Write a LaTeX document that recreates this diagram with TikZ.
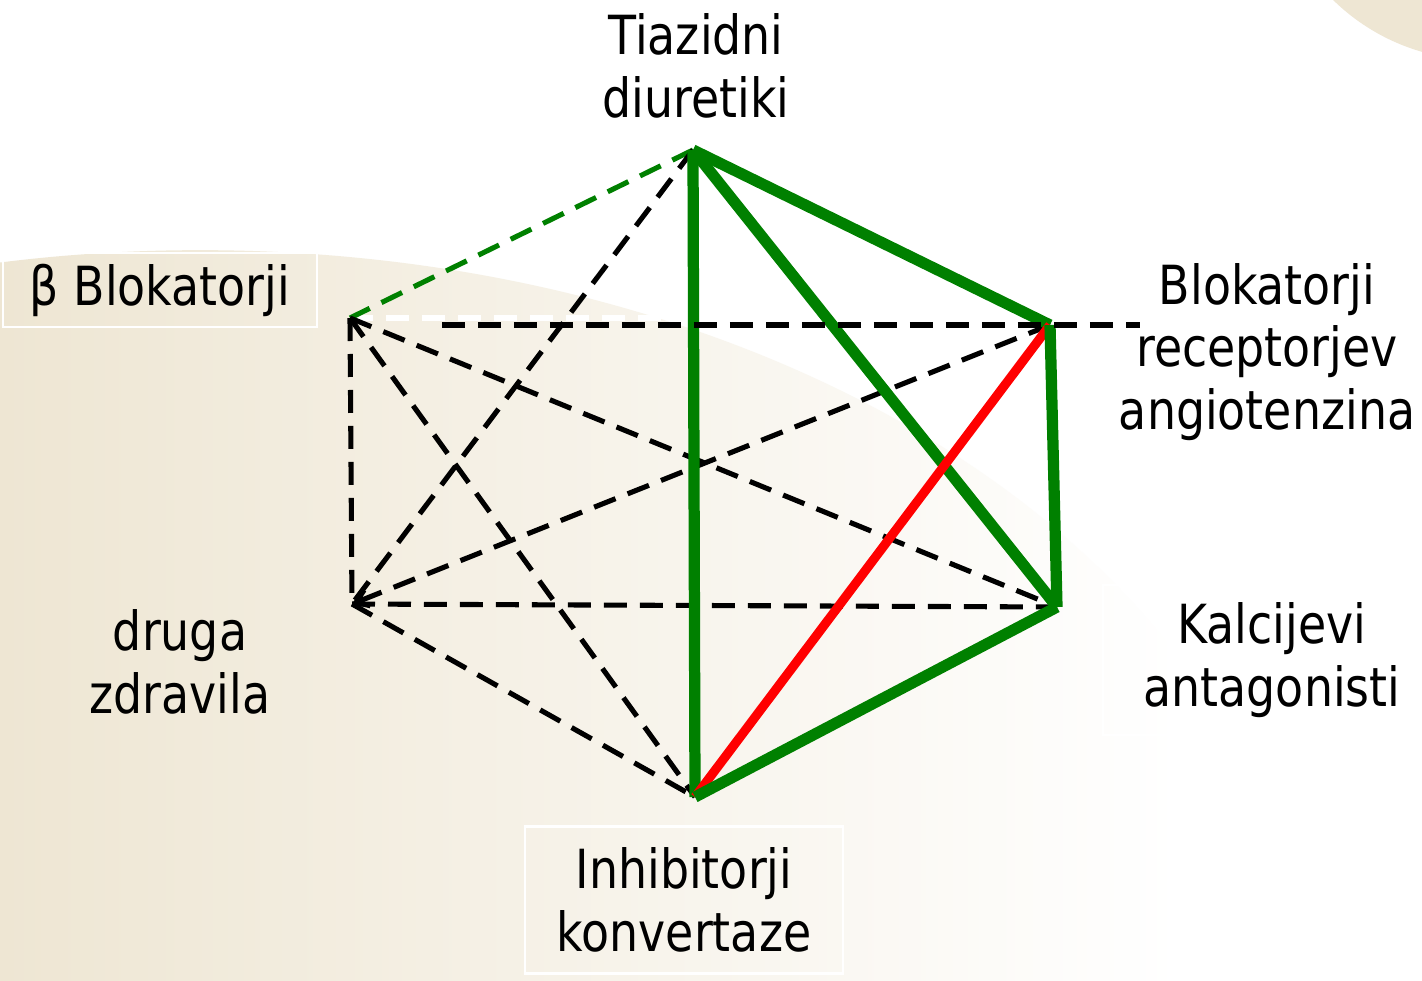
\documentclass[tikz,border=0pt]{standalone}
\usepackage{fontspec}
\setmainfont{DejaVu Sans}[FakeStretch=0.85]
\usetikzlibrary{arrows.meta}
\definecolor{Leaf}{HTML}{008000}
\definecolor{Alarm}{HTML}{FF0000}
\definecolor{Sand}{HTML}{EEE6D3}
\tikzset{lbl/.style={align=center,inner sep=0pt,text=black,
    font=\fontsize{30.7}{35.7}\selectfont},
  lblbox/.style={lbl,draw=white,line width=1.2pt},
  goodpair/.style={draw=Leaf,line width=6.4pt},
  badpair/.style={draw=Alarm,line width=5.2pt},
  otherpair/.style={draw=black,line width=2.9pt,dash pattern=on 0.46cm off 0.26cm},
  maybepair/.style={otherpair,draw=Leaf},
  hiddenpair/.style={otherpair,draw=white}}
\begin{document}
\begin{tikzpicture}[x=0.02cm,y=-0.02cm]
  \useasboundingbox (0,0) rectangle (1422,980);
  \fill[white] (0,0) rectangle (1422,980);
  \begin{scope}
    \clip (200,1000) ellipse [x radius=22cm,y radius=15cm];
    \shade[left color=Sand,right color=white] (0,0) rectangle (1180,980);
  \end{scope}
  \fill[Sand] (1480,-150) circle [radius=4.2cm];
  \coordinate (vT) at (693,150);
  \coordinate (vB) at (350,318);
  \coordinate (vA) at (1050,325);
  \coordinate (vD) at (352,604);
  \coordinate (vK) at (1057,607);
  \coordinate (vI) at (695,797);
  \coordinate (hS) at (442,325);
  \coordinate (hE) at (1140,325);
  \node[lbl] (tiaz) at (696,66) {Tiazidni\\diuretiki};
  \node[lblbox,minimum width=6.28cm,minimum height=1.48cm] (beta) at (160,290) {β Blokatorji};
  \node[lbl] (arb) at (1267,352) {Blokatorji\\receptorjev\\angiotenzina};
  \node[lblbox,minimum width=6.76cm,minimum height=3cm] (kalc) at (1272,660) {Kalcijevi\\antagonisti};
  \node[lbl] (druga) at (180,662) {druga\\zdravila};
  \node[lblbox,minimum width=6.36cm,minimum height=2.94cm] (ace) at (684,900) {Inhibitorji\\konvertaze};
  \draw[hiddenpair] (vB) -- (vA|-vB);
  \draw[maybepair] (vT) -- (vB);
  \draw[otherpair] (vT) -- (vD);
  \draw[otherpair] (vB) -- (vD);
  \draw[otherpair] (vB) -- (vK);
  \draw[otherpair] (vB) -- (vI);
  \draw[otherpair,-{Straight Barb[length=2.4mm,width=3.4mm]}] (vA) -- (vD);
  \draw[otherpair] (vD) -- (vK);
  \draw[otherpair] (vD) -- (vI);
  \draw[goodpair] (vT) -- (vI);
  \draw[goodpair] (vT) -- (vA);
  \draw[goodpair] (vT) -- (vK);
  \draw[badpair] (vA) -- (vI);
  \draw[goodpair] (vA) -- (vK);
  \draw[goodpair] (vK) -- (vI);
  \draw[otherpair] (hS) -- (hE);
\end{tikzpicture}
\end{document}
